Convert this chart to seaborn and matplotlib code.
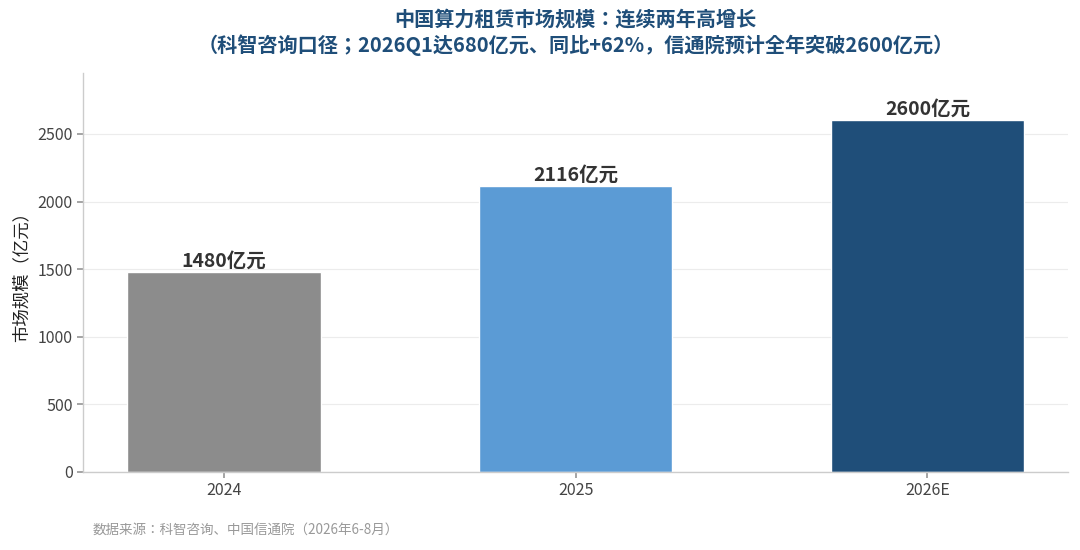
import matplotlib
matplotlib.use("Agg")
import matplotlib.pyplot as plt
import seaborn as sns
import pandas as pd

categories = ["2024", "2025", "2026E"]
values = [1480, 2116, 2600]
bar_colors = ["#8c8c8c", "#5b9bd5", "#1f4e79"]
value_labels = ["1480亿元", "2116亿元", "2600亿元"]
title = "中国算力租赁市场规模：连续两年高增长\n（科智咨询口径；2026Q1达680亿元、同比+62%，信通院预计全年突破2600亿元）"
ylabel = "市场规模（亿元）"
source = "数据来源：科智咨询、中国信通院（2026年6-8月）"

sns.set_theme(style="white")
plt.rcParams['font.family'] = ['Noto Sans CJK JP', 'DejaVu Sans']
plt.rcParams['axes.unicode_minus'] = False

df = pd.DataFrame({"year": categories, "value": values})

fig = plt.figure(figsize=(10.8, 5.5), dpi=100)
ax = fig.add_axes([0.077, 0.142, 0.912, 0.725])

sns.barplot(data=df, x="year", y="value", hue="year", palette=bar_colors,
            width=0.55, legend=False, ax=ax, saturation=1)

ax.set_xlim(-0.4, 2.4)
ax.set_ylim(0, 2950)
ax.set_yticks([0, 500, 1000, 1500, 2000, 2500])
ax.yaxis.grid(True, color="#ececec", linewidth=0.8)
ax.set_axisbelow(True)
for s in ["top", "right"]:
    ax.spines[s].set_visible(False)
for s in ["left", "bottom"]:
    ax.spines[s].set_color("#cccccc")
    ax.spines[s].set_linewidth(1.0)
ax.tick_params(axis="both", which="major", length=4, color="#999999",
               labelsize=11.5, labelcolor="#444444", bottom=True, left=True)
ax.set_xlabel("")
ax.set_ylabel(ylabel, fontsize=12.5, color="#222222", labelpad=5)

for i, (v, lab) in enumerate(zip(values, value_labels)):
    ax.annotate(lab, xy=(i, v), xytext=(0, 1), textcoords="offset points",
                ha="center", va="bottom", fontsize=14, fontweight="bold",
                color="#333333")

fig.text(0.533, 0.985, title, ha="center", va="top", fontsize=14.5,
         fontweight="bold", color="#1f4e79", linespacing=1.3)
fig.text(0.086, 0.036, source, ha="left", va="center", fontsize=9.75,
         color="#999999")

fig.savefig("out.png", dpi=100)
